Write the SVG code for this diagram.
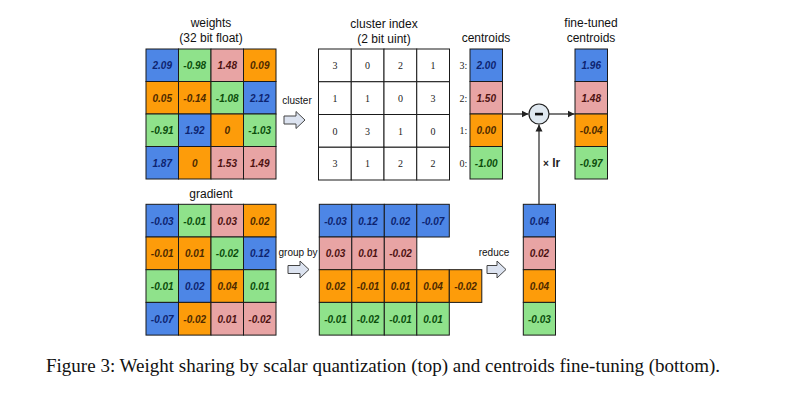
<svg xmlns="http://www.w3.org/2000/svg" width="797" height="400" viewBox="0 0 797 400">
<defs>
<style>
.b{fill:#4d86e6;stroke:#1a1a1a;stroke-width:1}
.g{fill:#8fe28b;stroke:#1a1a1a;stroke-width:1}
.p{fill:#e8a4a4;stroke:#1a1a1a;stroke-width:1}
.o{fill:#fd9c0a;stroke:#1a1a1a;stroke-width:1}
.w{fill:#ffffff;stroke:#1a1a1a;stroke-width:1}
.v{font-family:"Liberation Sans",Arial,sans-serif;font-size:10px;font-style:italic;font-weight:bold;text-anchor:middle}
.tb{fill:#0d2470}.tg{fill:#0b4d0b}.tp{fill:#4d1212}.to{fill:#4d2a00}
.n{font-family:"Liberation Serif",serif;font-size:10px;text-anchor:middle;fill:#222}
.t{font-family:"Liberation Sans",Arial,sans-serif;font-size:12px;text-anchor:middle;fill:#111}
.s{font-family:"Liberation Sans",Arial,sans-serif;font-size:10px;text-anchor:middle;fill:#111}
.blk{fill:#dce3f0;stroke:#444;stroke-width:1}
.ln{stroke:#222;stroke-width:1.2;fill:none}
</style>
<marker id="ah" markerWidth="8" markerHeight="8" refX="7" refY="4" orient="auto" markerUnits="userSpaceOnUse">
<path d="M0,0.5 L7,4 L0,7.5 z" fill="#222"/>
</marker>
</defs>
<rect width="797" height="400" fill="#ffffff"/>

<g id="weights">
<text class="t" x="211" y="27">weights</text>
<text class="t" x="211" y="42">(32 bit float)</text>
<rect class="b" x="146" y="49" width="32.5" height="32.5"/><text class="v tb" x="162.25" y="69">2.09</text>
<rect class="g" x="178.5" y="49" width="32.5" height="32.5"/><text class="v tg" x="194.75" y="69">-0.98</text>
<rect class="p" x="211" y="49" width="32.5" height="32.5"/><text class="v tp" x="227.25" y="69">1.48</text>
<rect class="o" x="243.5" y="49" width="32.5" height="32.5"/><text class="v to" x="259.75" y="69">0.09</text>
<rect class="o" x="146" y="81.5" width="32.5" height="32.5"/><text class="v to" x="162.25" y="101.5">0.05</text>
<rect class="o" x="178.5" y="81.5" width="32.5" height="32.5"/><text class="v to" x="194.75" y="101.5">-0.14</text>
<rect class="g" x="211" y="81.5" width="32.5" height="32.5"/><text class="v tg" x="227.25" y="101.5">-1.08</text>
<rect class="b" x="243.5" y="81.5" width="32.5" height="32.5"/><text class="v tb" x="259.75" y="101.5">2.12</text>
<rect class="g" x="146" y="114" width="32.5" height="32.5"/><text class="v tg" x="162.25" y="134">-0.91</text>
<rect class="b" x="178.5" y="114" width="32.5" height="32.5"/><text class="v tb" x="194.75" y="134">1.92</text>
<rect class="o" x="211" y="114" width="32.5" height="32.5"/><text class="v to" x="227.25" y="134">0</text>
<rect class="g" x="243.5" y="114" width="32.5" height="32.5"/><text class="v tg" x="259.75" y="134">-1.03</text>
<rect class="b" x="146" y="146.5" width="32.5" height="32.5"/><text class="v tb" x="162.25" y="166.5">1.87</text>
<rect class="o" x="178.5" y="146.5" width="32.5" height="32.5"/><text class="v to" x="194.75" y="166.5">0</text>
<rect class="p" x="211" y="146.5" width="32.5" height="32.5"/><text class="v tp" x="227.25" y="166.5">1.53</text>
<rect class="p" x="243.5" y="146.5" width="32.5" height="32.5"/><text class="v tp" x="259.75" y="166.5">1.49</text>
</g>

<g id="cluster-arrow">
<text class="s" x="297" y="104">cluster</text>
<path class="blk" d="M284,116 h12 v-4.5 l9,8.5 l-9,8.5 v-4.5 h-12 z"/>
</g>

<g id="cluster-index">
<text class="t" x="384" y="28">cluster index</text>
<text class="t" x="384" y="43">(2 bit uint)</text>
<g class="w">
<rect x="318.5" y="49" width="32.75" height="32.75"/><rect x="351.25" y="49" width="32.75" height="32.75"/><rect x="384" y="49" width="32.75" height="32.75"/><rect x="416.75" y="49" width="32.75" height="32.75"/>
<rect x="318.5" y="81.75" width="32.75" height="32.75"/><rect x="351.25" y="81.75" width="32.75" height="32.75"/><rect x="384" y="81.75" width="32.75" height="32.75"/><rect x="416.75" y="81.75" width="32.75" height="32.75"/>
<rect x="318.5" y="114.5" width="32.75" height="32.75"/><rect x="351.25" y="114.5" width="32.75" height="32.75"/><rect x="384" y="114.5" width="32.75" height="32.75"/><rect x="416.75" y="114.5" width="32.75" height="32.75"/>
<rect x="318.5" y="147.25" width="32.75" height="32.75"/><rect x="351.25" y="147.25" width="32.75" height="32.75"/><rect x="384" y="147.25" width="32.75" height="32.75"/><rect x="416.75" y="147.25" width="32.75" height="32.75"/>
</g>
<text class="n" x="335" y="69">3</text><text class="n" x="367.6" y="69">0</text><text class="n" x="400.4" y="69">2</text><text class="n" x="433.1" y="69">1</text>
<text class="n" x="335" y="101.8">1</text><text class="n" x="367.6" y="101.8">1</text><text class="n" x="400.4" y="101.8">0</text><text class="n" x="433.1" y="101.8">3</text>
<text class="n" x="335" y="134.5">0</text><text class="n" x="367.6" y="134.5">3</text><text class="n" x="400.4" y="134.5">1</text><text class="n" x="433.1" y="134.5">0</text>
<text class="n" x="335" y="167.3">3</text><text class="n" x="367.6" y="167.3">1</text><text class="n" x="400.4" y="167.3">2</text><text class="n" x="433.1" y="167.3">2</text>
</g>

<g id="centroids">
<text class="t" x="486" y="42">centroids</text>
<text class="n" x="463.5" y="69">3:</text>
<text class="n" x="463.5" y="101.5">2:</text>
<text class="n" x="463.5" y="134">1:</text>
<text class="n" x="463.5" y="166.5">0:</text>
<rect class="b" x="470" y="49" width="32.5" height="32.5"/><text class="v tb" x="486.25" y="69">2.00</text>
<rect class="p" x="470" y="81.5" width="32.5" height="32.5"/><text class="v tp" x="486.25" y="101.5">1.50</text>
<rect class="o" x="470" y="114" width="32.5" height="32.5"/><text class="v to" x="486.25" y="134">0.00</text>
<rect class="g" x="470" y="146.5" width="32.5" height="32.5"/><text class="v tg" x="486.25" y="166.5">-1.00</text>
</g>

<g id="minus">
<circle cx="539" cy="114" r="10" fill="#dfe8f0" stroke="#222" stroke-width="1.2"/>
<rect x="535" y="112.8" width="8" height="2.6" fill="#111"/>
</g>

<g id="fine-tuned-centroids">
<text class="t" x="591" y="27">fine-tuned</text>
<text class="t" x="591" y="42">centroids</text>
<rect class="b" x="575" y="49" width="32.5" height="32.5"/><text class="v tb" x="591.25" y="69">1.96</text>
<rect class="p" x="575" y="81.5" width="32.5" height="32.5"/><text class="v tp" x="591.25" y="101.5">1.48</text>
<rect class="o" x="575" y="114" width="32.5" height="32.5"/><text class="v to" x="591.25" y="134">-0.04</text>
<rect class="g" x="575" y="146.5" width="32.5" height="32.5"/><text class="v tg" x="591.25" y="166.5">-0.97</text>
</g>

<g id="gradient">
<text class="t" x="211" y="198">gradient</text>
<rect class="b" x="146" y="204.3" width="32.5" height="32.7"/><text class="v tb" x="162.25" y="224.5">-0.03</text>
<rect class="g" x="178.5" y="204.3" width="32.5" height="32.7"/><text class="v tg" x="194.75" y="224.5">-0.01</text>
<rect class="p" x="211" y="204.3" width="32.5" height="32.7"/><text class="v tp" x="227.25" y="224.5">0.03</text>
<rect class="o" x="243.5" y="204.3" width="32.5" height="32.7"/><text class="v to" x="259.75" y="224.5">0.02</text>
<rect class="o" x="146" y="237" width="32.5" height="32.7"/><text class="v to" x="162.25" y="257.2">-0.01</text>
<rect class="o" x="178.5" y="237" width="32.5" height="32.7"/><text class="v to" x="194.75" y="257.2">0.01</text>
<rect class="g" x="211" y="237" width="32.5" height="32.7"/><text class="v tg" x="227.25" y="257.2">-0.02</text>
<rect class="b" x="243.5" y="237" width="32.5" height="32.7"/><text class="v tb" x="259.75" y="257.2">0.12</text>
<rect class="g" x="146" y="269.7" width="32.5" height="32.7"/><text class="v tg" x="162.25" y="289.9">-0.01</text>
<rect class="b" x="178.5" y="269.7" width="32.5" height="32.7"/><text class="v tb" x="194.75" y="289.9">0.02</text>
<rect class="o" x="211" y="269.7" width="32.5" height="32.7"/><text class="v to" x="227.25" y="289.9">0.04</text>
<rect class="g" x="243.5" y="269.7" width="32.5" height="32.7"/><text class="v tg" x="259.75" y="289.9">0.01</text>
<rect class="b" x="146" y="302.4" width="32.5" height="32.7"/><text class="v tb" x="162.25" y="322.6">-0.07</text>
<rect class="o" x="178.5" y="302.4" width="32.5" height="32.7"/><text class="v to" x="194.75" y="322.6">-0.02</text>
<rect class="p" x="211" y="302.4" width="32.5" height="32.7"/><text class="v tp" x="227.25" y="322.6">0.01</text>
<rect class="p" x="243.5" y="302.4" width="32.5" height="32.7"/><text class="v tp" x="259.75" y="322.6">-0.02</text>
</g>

<g id="groupby-arrow">
<text class="s" x="298" y="256">group by</text>
<path class="blk" d="M288,265.5 h12 v-4.5 l9,8.5 l-9,8.5 v-4.5 h-12 z"/>
</g>

<g id="grouped">
<rect class="b" x="319.3" y="204.3" width="32.5" height="32.7"/><text class="v tb" x="335.55" y="224.5">-0.03</text>
<rect class="b" x="351.8" y="204.3" width="32.5" height="32.7"/><text class="v tb" x="368.05" y="224.5">0.12</text>
<rect class="b" x="384.3" y="204.3" width="32.5" height="32.7"/><text class="v tb" x="400.55" y="224.5">0.02</text>
<rect class="b" x="416.8" y="204.3" width="32.5" height="32.7"/><text class="v tb" x="433.05" y="224.5">-0.07</text>
<rect class="p" x="319.3" y="237" width="32.5" height="32.7"/><text class="v tp" x="335.55" y="257.2">0.03</text>
<rect class="p" x="351.8" y="237" width="32.5" height="32.7"/><text class="v tp" x="368.05" y="257.2">0.01</text>
<rect class="p" x="384.3" y="237" width="32.5" height="32.7"/><text class="v tp" x="400.55" y="257.2">-0.02</text>
<rect class="o" x="319.3" y="269.7" width="32.5" height="32.7"/><text class="v to" x="335.55" y="289.9">0.02</text>
<rect class="o" x="351.8" y="269.7" width="32.5" height="32.7"/><text class="v to" x="368.05" y="289.9">-0.01</text>
<rect class="o" x="384.3" y="269.7" width="32.5" height="32.7"/><text class="v to" x="400.55" y="289.9">0.01</text>
<rect class="o" x="416.8" y="269.7" width="32.5" height="32.7"/><text class="v to" x="433.05" y="289.9">0.04</text>
<rect class="o" x="449.3" y="269.7" width="32.5" height="32.7"/><text class="v to" x="465.55" y="289.9">-0.02</text>
<rect class="g" x="319.3" y="302.4" width="32.5" height="32.7"/><text class="v tg" x="335.55" y="322.6">-0.01</text>
<rect class="g" x="351.8" y="302.4" width="32.5" height="32.7"/><text class="v tg" x="368.05" y="322.6">-0.02</text>
<rect class="g" x="384.3" y="302.4" width="32.5" height="32.7"/><text class="v tg" x="400.55" y="322.6">-0.01</text>
<rect class="g" x="416.8" y="302.4" width="32.5" height="32.7"/><text class="v tg" x="433.05" y="322.6">0.01</text>
</g>

<g id="reduce-arrow">
<text class="s" x="494" y="256">reduce</text>
<path class="blk" d="M487,265.5 h10 v-4.5 l9,8.5 l-9,8.5 v-4.5 h-10 z"/>
</g>

<g id="reduced">
<rect class="b" x="523.3" y="204.3" width="32.2" height="32.7"/><text class="v tb" x="539.4" y="224.5">0.04</text>
<rect class="p" x="523.3" y="237" width="32.2" height="32.7"/><text class="v tp" x="539.4" y="257.2">0.02</text>
<rect class="o" x="523.3" y="269.7" width="32.2" height="32.7"/><text class="v to" x="539.4" y="289.9">0.04</text>
<rect class="g" x="523.3" y="302.4" width="32.2" height="32.7"/><text class="v tg" x="539.4" y="322.6">-0.03</text>
</g>

<g id="connectors">
<line class="ln" x1="502.5" y1="114" x2="528.5" y2="114" marker-end="url(#ah)"/>
<line class="ln" x1="549" y1="114" x2="574.5" y2="114" marker-end="url(#ah)"/>
<line class="ln" x1="539" y1="204.3" x2="539" y2="124.5" marker-end="url(#ah)"/>
<text x="543" y="167" font-family="'Liberation Sans',Arial,sans-serif" font-size="12" font-weight="bold" fill="#222"><tspan font-size="10">×</tspan> lr</text>
</g>

<text id="caption" x="46" y="372" font-family="'Liberation Serif','Times New Roman',serif" font-size="19" textLength="674" fill="#111">Figure 3: Weight sharing by scalar quantization (top) and centroids fine-tuning (bottom).</text>
</svg>
